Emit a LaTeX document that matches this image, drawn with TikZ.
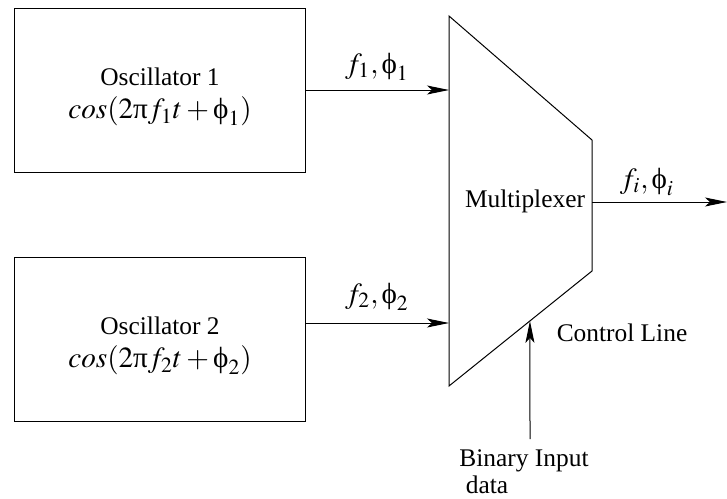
\documentclass[tikz,border=0pt]{standalone}
\usepackage{mathptmx}
\usepackage[no-math]{fontspec}
\setmainfont{Liberation Serif}
\usepackage{tikz}
\usetikzlibrary{positioning, arrows.meta, calc}

\newcommand{\uphi}{\mbox{\char"03D5}}
\newcommand{\upi}{\mbox{\char"03C0}}
\newcommand{\MathSize}{\fontsize{14.6pt}{17pt}\selectfont}

\tikzset{
    oscbox/.style = {draw, line width = 0.5pt, minimum width = 145.5pt, minimum height = 82pt, inner sep = 0pt},
    osctext/.style = {align = center, inner sep = 0pt, yshift = -3.5pt},
    sig/.style = {line width = 0.5pt, -{Stealth[length = 11pt, width = 4.5pt, inset = 2.5pt]}},
    lbl/.style = {inner sep = 0pt},
    mathlbl/.style = {inner sep = 0pt, font = \MathSize}
}

\begin{document}
\begin{tikzpicture}[x = 0.5pt, y = -0.5pt, font = \fontsize{12.7pt}{15pt}\selectfont]
    \useasboundingbox (0, 0) rectangle (727, 498);

    % draw oscillator boxes
    \node[oscbox] (osc1) at (160, 90) {};
    \node[osctext] (osc1text) at (osc1) {Oscillator 1\\[1.5pt] {\MathSize $cos(2\upi f_1 t + \uphi_1)$}};
    \node[oscbox] (osc2) at (160, 339) {};
    \node[osctext] (osc2text) at (osc2) {Oscillator 2\\[1.5pt] {\MathSize $cos(2\upi f_2 t + \uphi_2)$}};


    % draw multiplexer
    \coordinate (mtl) at (449, 16);
    \coordinate (mtr) at (592, 140);
    \coordinate (mbr) at (592, 271);
    \coordinate (mbl) at (449, 386);
    \draw[line width = 0.5pt] (mtl) -- (mtr) -- (mbr) -- (mbl) -- cycle;
    \node[lbl] (mux) at (525, 201) {Multiplexer};


    % draw inputs and output
    \coordinate (in1) at (449, 90);
    \coordinate (in2) at (449, 323);
    \coordinate (outp) at (592, 202);
    \coordinate (out) at (727, 202);

    \draw[sig] (osc1.east |- in1) -- (in1);
    \draw[sig] (osc2.east |- in2) -- (in2);
    \draw[sig] (outp) -- (out);

    \node[mathlbl] (lab1) at (377, 67) {$f_1, \uphi_1$};
    \node[mathlbl] (lab2) at (377, 297) {$f_2, \uphi_2$};
    \node[mathlbl] (labi) at (647, 182) {$f_i, \uphi_i$};


    % draw control line
    \coordinate (ctl) at ($(mbl)!0.566!(mbr)$);
    \coordinate (ctlin) at (530, 439);
    \node[lbl] (bin) at (524, 461) {Binary Input};
    \node[lbl] (data) at (487, 485) {data};
    \draw[sig] (ctlin) -- (ctl);
    \node[lbl] (ctrl) at (622, 333) {Control Line};

\end{tikzpicture}
\end{document}
